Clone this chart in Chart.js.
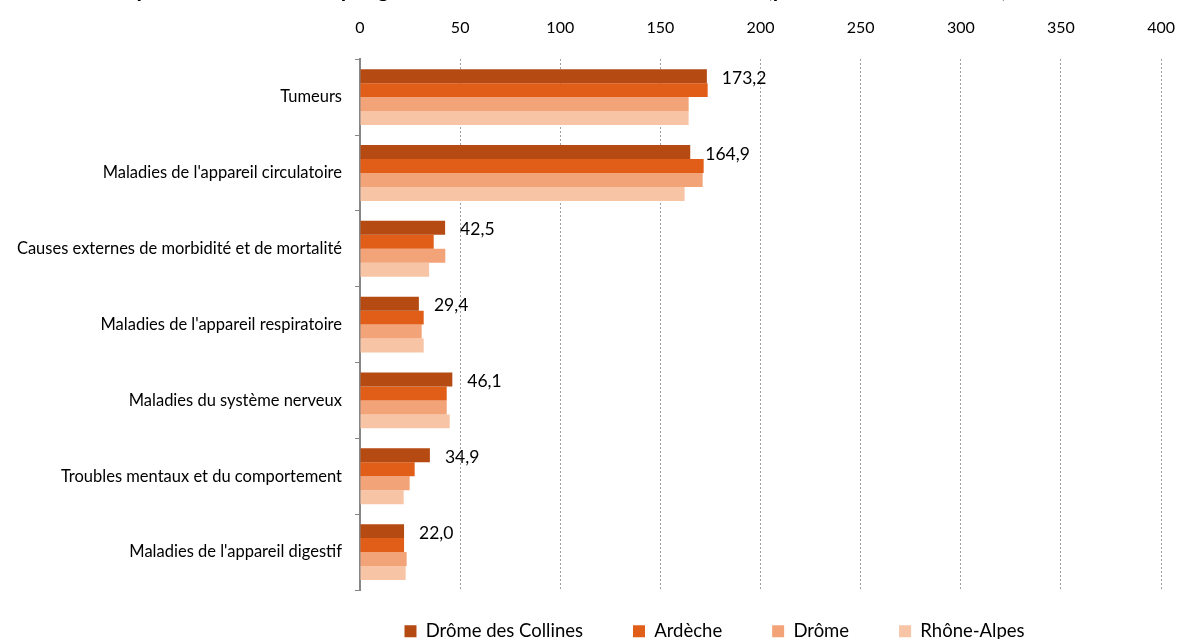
<!DOCTYPE html>
<html>
<head>
<meta charset="utf-8">
<script src="https://cdn.jsdelivr.net/npm/chart.js@4"></script>
<style>
  body { margin: 0; background: #fff; }
  #wrap { position: relative; width: 1179px; height: 639px; overflow: hidden; }
  #title {
    position: absolute; top: -24px; right: 157px;
    font: bold 22px Lato, sans-serif; line-height: 26px;
    white-space: nowrap; color: #000;
  }
  canvas { display: block; }
</style>
</head>
<body>
<div id="wrap">
  <div id="title">Taux comparatifs de mortalité par grandes causes de décès en 2005-2009 (pour 100 000 habitants) *</div>
  <canvas id="chart" width="1179" height="639"></canvas>
</div>
<script>
const categories = [
    "Tumeurs",
    "Maladies de l'appareil circulatoire",
    "Causes externes de morbidité et de mortalité",
    "Maladies de l'appareil respiratoire",
    "Maladies du système nerveux",
    "Troubles mentaux et du comportement",
    "Maladies de l'appareil digestif",
];
const seriesNames = ["Drôme des Collines", "Ardèche", "Drôme", "Rhône-Alpes"];
const dromeCollines = [173.2, 164.9, 42.5, 29.4, 46.1, 34.9, 22.0];
const ardeche = [173.6, 171.6, 36.8, 31.8, 43.3, 27.3, 22.0];
const drome = [164.1, 171.1, 42.6, 30.8, 43.3, 24.8, 23.3];
const rhoneAlpes = [164.1, 162.1, 34.5, 31.8, 44.8, 21.8, 22.8];
const colors = ["#B54A13", "#E15E18", "#F3A378", "#F7C4A6"];
const xMin = 0, xMax = 400, xStep = 50;

Chart.defaults.font.family = "Lato";
Chart.defaults.color = "#000";

// values of the first series, written right of its bars
const valueLabels = {
    id: "valueLabels",
    afterDatasetsDraw(chart) {
        const ctx = chart.ctx;
        const meta = chart.getDatasetMeta(0);
        ctx.save();
        ctx.font = "17.5px Lato";
        ctx.fillStyle = "#000";
        ctx.textBaseline = "middle";
        meta.data.forEach((bar, i) => {
            ctx.fillText(dromeCollines[i].toFixed(1).replace(".", ","), bar.x + 15, bar.y + 2);
        });
        ctx.restore();
    },
};

// legend items need wide gaps, pull the row back up under the plot
const legendShift = {
    id: "legendShift",
    afterLayout(chart) {
        const lg = chart.legend;
        lg.top -= 18;
        lg.left -= 46;
        lg.right -= 46;
    },
};

const ctx = document.getElementById("chart").getContext("2d");
new Chart(ctx, {
    type: "bar",
    data: {
        labels: categories,
        datasets: [dromeCollines, ardeche, drome, rhoneAlpes].map((d, i) => ({
            label: seriesNames[i],
            data: d,
            backgroundColor: colors[i],
            categoryPercentage: 0.737,
            barPercentage: 1.0,
        })),
    },
    options: {
        indexAxis: "y",
        responsive: false,
        animation: false,
        layout: { padding: { top: -4, right: 0, left: 0, bottom: 0 } },
        scales: {
            x: {
                position: "top",
                min: xMin,
                max: xMax,
                // tall line height keeps the labels high without a wide tick padding
                ticks: { stepSize: xStep, padding: 4, font: { size: 16, lineHeight: 3.45 } },
                grid: { color: "#A0A0A0", drawTicks: false },
                border: { display: false, dash: [2, 2] },
            },
            y: {
                afterFit(scale) { scale.width = 360; },
                ticks: { padding: 13, font: { size: 16.5 } },
                grid: { drawOnChartArea: false, tickLength: 5, color: "#868686" },
                border: { color: "#868686", width: 2 },
            },
        },
        plugins: {
            legend: {
                position: "bottom",
                fullSize: false,
                maxHeight: 49,
                labels: { boxWidth: 12, boxHeight: 12, padding: 50, font: { size: 18.5 } },
            },
            tooltip: { enabled: false },
        },
    },
    plugins: [valueLabels, legendShift],
});
</script>
</body>
</html>
